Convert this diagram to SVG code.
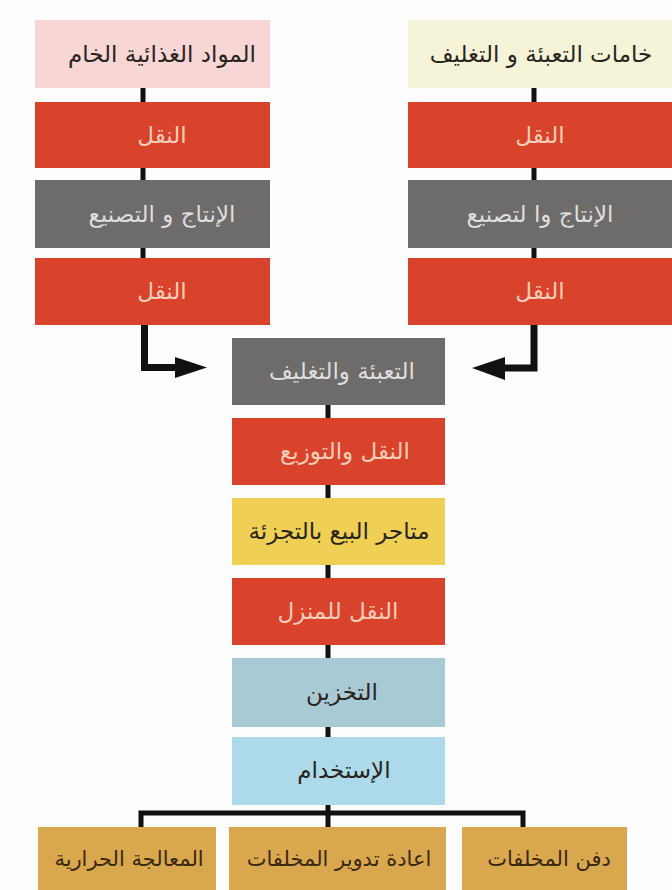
<svg xmlns="http://www.w3.org/2000/svg" width="672" height="890" viewBox="0 0 672 890">
<style>
text{font-family:"DejaVu Sans","Noto Sans",sans-serif;font-size:23px;text-anchor:middle;direction:rtl}
.sm{font-size:21px}
.pink{fill:#f7d6d5}
.cream{fill:#f6f4d8}
.red{fill:#d9432b}
.gray{fill:#6e6b6b}
.yel{fill:#f0cf55}
.sto{fill:#a8cad5}
.use{fill:#acdaea}
.mus{fill:#d8a74e}
.tdark{fill:#2a2420}
.tred{fill:#f6cdb8}
.tgray{fill:#dedede}
.tbrown{fill:#3a2812}
.ln{stroke:#111;stroke-width:5;fill:none}
.thick{stroke:#111;stroke-width:7;fill:none}
</style>
<rect width="672" height="890" fill="#fdfdfd"/>
<g id="connectors">
<path class="ln" d="M143,88 V325"/>
<path class="thick" d="M144.5,324 V367.5 H180"/>
<polygon points="175,357 207,367.5 175,378" fill="#111"/>
<path class="ln" d="M534,88 V325"/>
<path class="thick" d="M534,324 V368 H500"/>
<polygon points="505,357 472,368 505,380" fill="#111"/>
<path class="ln" d="M328,405 V827"/>
<path class="ln" d="M141,827 V813 H523 V827"/>
</g>
<g id="n1"><rect class="pink" x="35" y="20" width="235" height="68"/><text class="tdark" x="162" y="62">المواد الغذائية الخام</text></g>
<g id="n2"><rect class="red" x="35" y="102" width="235" height="66"/><text class="tred" x="162" y="143">النقل</text></g>
<g id="n3"><rect class="gray" x="35" y="180" width="235" height="68"/><text class="tgray" x="162" y="222">الإنتاج و التصنيع</text></g>
<g id="n4"><rect class="red" x="35" y="258" width="235" height="67"/><text class="tred" x="162" y="299">النقل</text></g>
<g id="n5"><rect class="cream" x="408" y="20" width="264" height="68"/><text class="tdark" x="541" y="62">خامات التعبئة و التغليف</text></g>
<g id="n6"><rect class="red" x="408" y="102" width="264" height="66"/><text class="tred" x="540" y="143">النقل</text></g>
<g id="n7"><rect class="gray" x="408" y="180" width="264" height="68"/><text class="tgray" x="540" y="222">الإنتاج وا لتصنيع</text></g>
<g id="n8"><rect class="red" x="408" y="258" width="264" height="67"/><text class="tred" x="540" y="299">النقل</text></g>
<g id="n9"><rect class="gray" x="232" y="338" width="213" height="67"/><text class="tgray" x="342" y="379">التعبئة والتغليف</text></g>
<g id="n10"><rect class="red" x="232" y="418" width="213" height="67"/><text class="tred" x="345" y="459">النقل والتوزيع</text></g>
<g id="n11"><rect class="yel" x="232" y="498" width="213" height="67"/><text class="tdark" x="339" y="539">متاجر البيع بالتجزئة</text></g>
<g id="n12"><rect class="red" x="232" y="578" width="213" height="67"/><text class="tred" x="338" y="619">النقل للمنزل</text></g>
<g id="n13"><rect class="sto" x="232" y="658" width="213" height="69"/><text class="tdark" x="342" y="700">التخزين</text></g>
<g id="n14"><rect class="use" x="232" y="737" width="213" height="68"/><text class="tdark" x="344" y="778">الإستخدام</text></g>
<g id="n15"><rect class="mus" x="38" y="827" width="178" height="63"/><text class="tbrown sm" x="129" y="866">المعالجة الحرارية</text></g>
<g id="n16"><rect class="mus" x="229" y="827" width="217" height="63"/><text class="tbrown sm" x="339" y="866">اعادة تدوير المخلفات</text></g>
<g id="n17"><rect class="mus" x="462" y="827" width="165" height="63"/><text class="tbrown sm" x="549" y="866">دفن المخلفات</text></g>
</svg>
